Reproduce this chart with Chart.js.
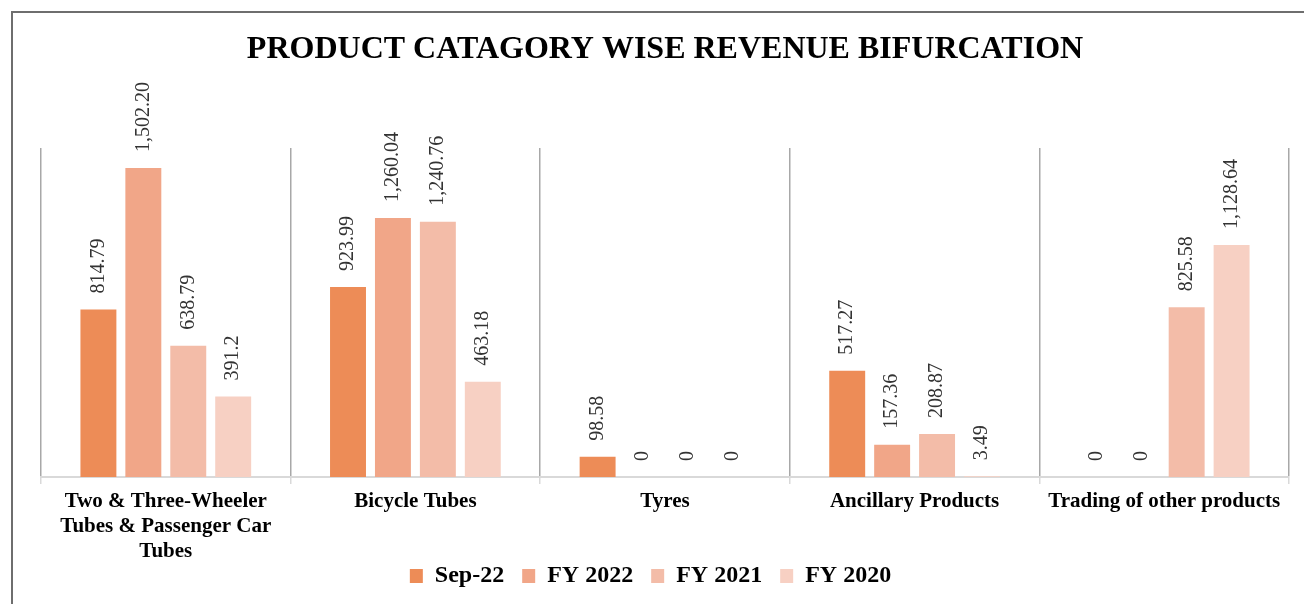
<!DOCTYPE html>
<html>
<head>
<meta charset="utf-8">
<title>Product Category Wise Revenue Bifurcation</title>
<script src="https://cdn.jsdelivr.net/npm/chart.js@4.4.1/dist/chart.umd.min.js"></script>
<style>
  html, body { margin: 0; padding: 0; background: #ffffff; overflow: hidden; }
  #frame { position: absolute; left: 11px; top: 11px; width: 1340px; height: 640px; border: 2px solid #6e6e6e; }
  #wrap { position: absolute; left: 0; top: 0; width: 1304px; height: 604px; }
</style>
</head>
<body>
<div id="frame"></div>
<div id="wrap"><canvas id="chart" width="1304" height="604"></canvas></div>
<script>
// Product categories (multi-line labels as arrays)
const categories = [
  ["Two & Three-Wheeler", "Tubes & Passenger Car", "Tubes"],
  "Bicycle Tubes",
  "Tyres",
  "Ancillary Products",
  "Trading of other products"
];

const seriesNames = ["Sep-22", "FY 2022", "FY 2021", "FY 2020"];

// Revenue figures, written as they are printed above each bar
const sep22  = ["814.79", "923.99", "98.58", "517.27", "0"];
const fy2022 = ["1,502.20", "1,260.04", "0", "157.36", "0"];
const fy2021 = ["638.79", "1,240.76", "0", "208.87", "825.58"];
const fy2020 = ["391.2", "463.18", "0", "3.49", "1,128.64"];

const seriesColors = ["#ED8C57", "#F1A688", "#F3BCA8", "#F7D0C3"];

const toNumber = s => parseFloat(s.replace(/,/g, ""));
const seriesText = [sep22, fy2022, fy2021, fy2020];

const serif = "'Liberation Serif', 'Times New Roman', serif";
// horizontal gap between legend entries (the legend's own padding is kept at 0
// so that it sits close under the wrapped axis labels)
const legendGap = "\u00a0\u00a0\u00a0";

// Rotated value labels above each bar
const valueLabels = {
  id: "valueLabels",
  afterDatasetsDraw(chart) {
    const ctx = chart.ctx;
    ctx.save();
    ctx.font = "20px " + serif;
    ctx.fillStyle = "#333333";
    ctx.textAlign = "left";
    ctx.textBaseline = "middle";
    chart.data.datasets.forEach((ds, di) => {
      const meta = chart.getDatasetMeta(di);
      meta.data.forEach((bar, i) => {
        ctx.save();
        ctx.translate(bar.x, bar.y - 16);
        ctx.rotate(-Math.PI / 2);
        ctx.fillText(ds.labelText[i], 0, 0);
        ctx.restore();
      });
    });
    ctx.restore();
  }
};

new Chart(document.getElementById("chart"), {
  type: "bar",
  data: {
    labels: categories,
    datasets: seriesNames.map((name, k) => ({
      label: name,
      data: seriesText[k].map(toNumber),
      labelText: seriesText[k],
      backgroundColor: seriesColors[k],
      borderWidth: 0,
      categoryPercentage: 0.72,
      barPercentage: 0.8
    }))
  },
  options: {
    responsive: false,
    animation: false,
    devicePixelRatio: 1,
    layout: { padding: { left: 12, right: 15, top: 0, bottom: 6 } },
    plugins: {
      title: {
        display: true,
        text: "PRODUCT CATAGORY WISE REVENUE BIFURCATION",
        fullSize: false,
        color: "#000000",
        font: { family: serif, size: 32, weight: "bold" },
        padding: { top: 31, bottom: 78.6 }
      },
      legend: {
        position: "bottom",
        labels: {
          color: "#000000",
          font: { family: serif, size: 24, weight: "bold" },
          boxWidth: 13,
          boxHeight: 14,
          padding: 0,
          generateLabels(chart) {
            const items = Chart.defaults.plugins.legend.labels.generateLabels(chart);
            items.forEach((it, i) => {
              if (i < items.length - 1) it.text += legendGap;
            });
            return items;
          }
        }
      },
      tooltip: { enabled: false }
    },
    scales: {
      x: {
        grid: {
          offset: true,
          color: "#a8a8a8",
          lineWidth: 1.5,
          tickColor: "#d9d9d9",
          tickLength: 7,
          drawOnChartArea: true
        },
        border: { color: "#d9d9d9", width: 2 },
        ticks: {
          color: "#000000",
          font: { family: serif, size: 21, weight: "bold", lineHeight: 25 / 21 },
          padding: 5,
          maxRotation: 0,
          autoSkip: false
        },
        // trim the spare space under the last wrapped label line
        afterFit(scale) { scale.height -= 5; }
      },
      y: {
        min: 0,
        max: 1600,
        grid: { display: false },
        border: { display: false },
        ticks: { display: false },
        afterFit(scale) { scale.width = 29; }
      }
    }
  },
  plugins: [valueLabels]
});
</script>
</body>
</html>
